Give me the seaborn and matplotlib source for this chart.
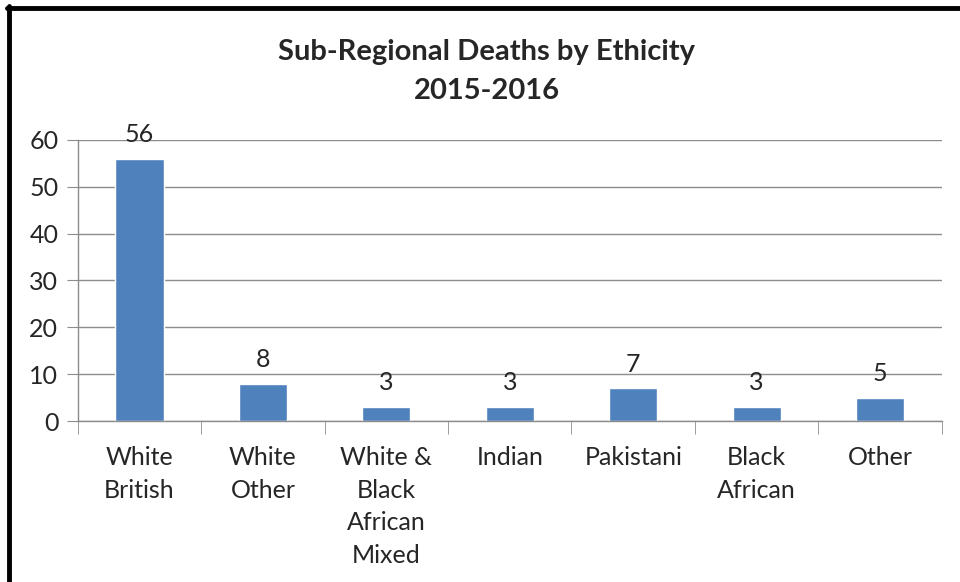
import matplotlib
matplotlib.use("Agg")
import matplotlib.pyplot as plt
import seaborn as sns
import pandas as pd
from matplotlib.lines import Line2D

# data
categories = ["White\nBritish", "White\nOther", "White &\nBlack\nAfrican\nMixed",
              "Indian", "Pakistani", "Black\nAfrican", "Other"]
deaths = [56, 8, 3, 3, 7, 3, 5]
y_ticks = [0, 10, 20, 30, 40, 50, 60]

df = pd.DataFrame({"group": categories, "deaths": deaths})

sns.set_style("white")
plt.rcParams["font.family"] = ["Lato", "DejaVu Sans"]

fig = plt.figure(figsize=(9.6, 5.82), dpi=100)
ax = fig.add_axes([0.081, 0.2766, 0.9, 0.4829])

sns.barplot(data=df, x="group", y="deaths", color="#4F81BD", width=0.39,
            saturation=1, ax=ax)

ax.set_ylim(0, 60)
ax.set_xlim(-0.5, 6.5)
ax.set_yticks(y_ticks)
ax.yaxis.grid(True, color="#8c8c8c", linewidth=1)
ax.set_axisbelow(True)
ax.set_xlabel("")
ax.set_ylabel("")

for side in ["top", "right"]:
    ax.spines[side].set_visible(False)
for side in ["left", "bottom"]:
    ax.spines[side].set_color("#8c8c8c")
    ax.spines[side].set_linewidth(1)

ax.tick_params(axis="y", length=8, color="#8c8c8c", labelsize=18, pad=6,
               left=True)
ax.tick_params(axis="x", which="major", length=0, labelsize=18, pad=18)
ax.set_xticks([i + 0.5 for i in range(-1, 7)], minor=True)
ax.tick_params(axis="x", which="minor", length=9, color="#8c8c8c", bottom=True)
for lbl in ax.get_xticklabels():
    lbl.set_linespacing(1.5)

ax.bar_label(ax.containers[0], fontsize=18, padding=9)

fig.text(0.507, 0.877, "Sub-Regional Deaths by Ethicity\n2015-2016",
         ha="center", va="center", fontsize=21, fontweight="bold",
         linespacing=1.6)

# black frame on top and left like the screenshot
fig.add_artist(Line2D([0.0075, 1.0], [0.9863, 0.9863], color="black",
                      linewidth=3.5, transform=fig.transFigure))
fig.add_artist(Line2D([0.0095, 0.0095], [0.0, 0.99], color="black",
                      linewidth=3.5, transform=fig.transFigure))

fig.savefig("out.png", dpi=100)
